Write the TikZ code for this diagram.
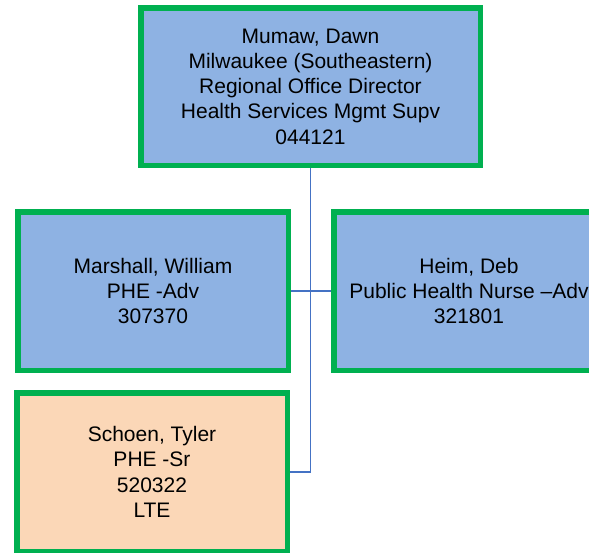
\documentclass[tikz,border=0pt]{standalone}
\usepackage{fontspec}
\setmainfont{Liberation Sans}
\usepackage{tikz}
\usetikzlibrary{positioning}

\definecolor{boxblue}{RGB}{142,178,227}
\definecolor{boxpeach}{RGB}{251,215,183}
\definecolor{boxgreen}{RGB}{0,176,80}
\definecolor{linkblue}{RGB}{68,114,196}

\begin{document}
\begin{tikzpicture}
[
  x=1pt, y=-1pt,
	person/.style={draw=boxgreen,line width=5.5pt,fill=boxblue,align=center,
	  font=\fontsize{21}{25.3}\selectfont,inner sep=0pt},
	wide/.style={minimum width=339.5pt,minimum height=157.5pt},
	std/.style={minimum width=270.5pt,minimum height=158.5pt},
	lte/.style={fill=boxpeach},
	link/.style={draw=linkblue,line width=1.5pt}
]
\useasboundingbox (0,0) rectangle (589,552);
\clip (0,0) rectangle (589,552);

% director
\node[person,wide] (mumaw) at (310.5,86.5)
  {Mumaw, Dawn\\Milwaukee (Southeastern)\\Regional Office Director\\Health Services Mgmt Supv\\044121};

% staff
\node[person,std] (marshall) at (153,291) {Marshall, William\\PHE -Adv\\307370};
\node[person,std] (heim) at (469,291) {Heim, Deb\\Public Health Nurse --Adv\\321801};
\node[person,std,lte] (schoen) at (152,472) {Schoen, Tyler\\PHE -Sr\\520322\\LTE};

% connectors
\draw[link] (mumaw.south) |- (schoen.east);
\draw[link] (marshall.east) -- (heim.west);

\end{tikzpicture}
\end{document}
